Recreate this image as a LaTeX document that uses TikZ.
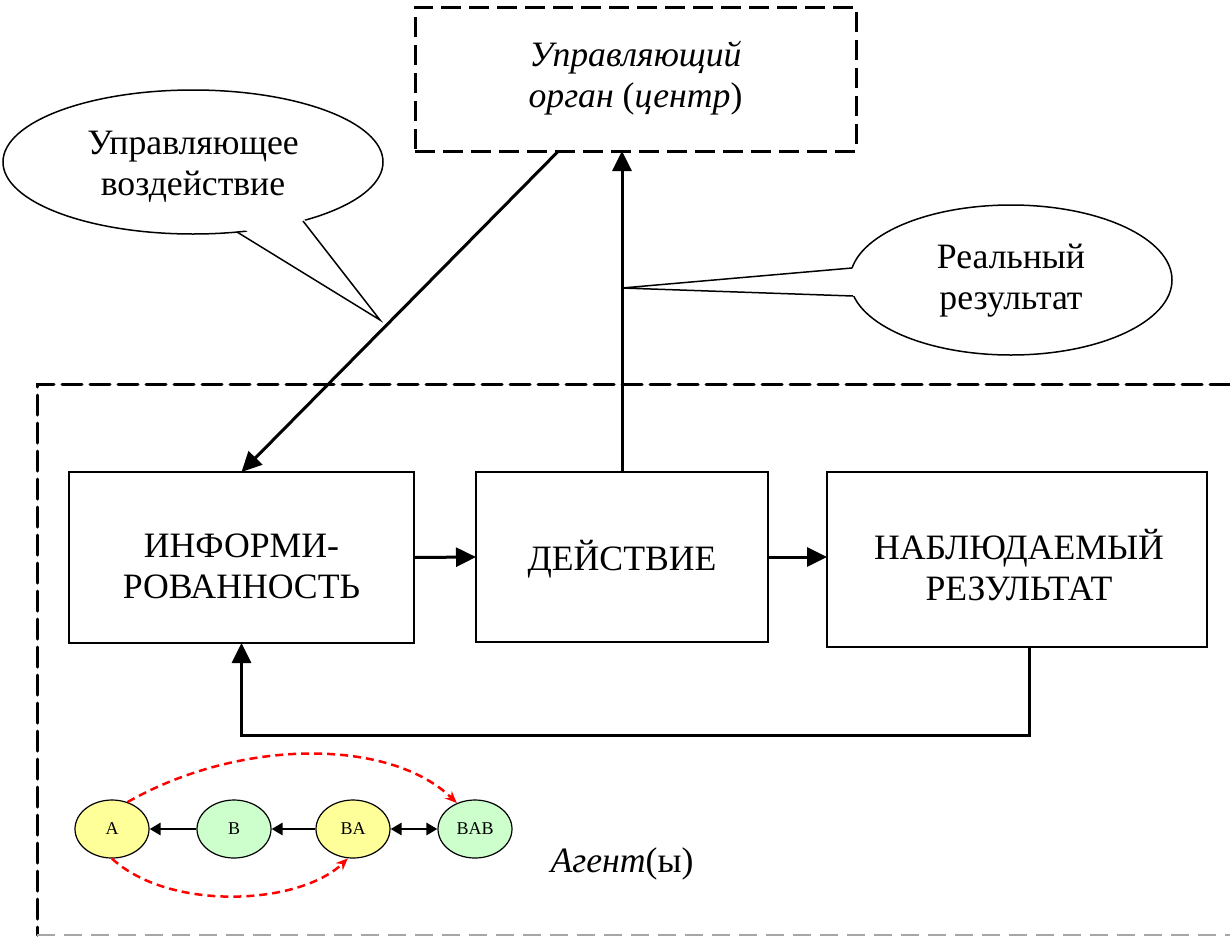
\documentclass[tikz,border=0pt]{standalone}
\usepackage{fontspec}
\setmainfont{Liberation Serif}
\usetikzlibrary{arrows.meta,shapes.geometric,calc}
\newcommand\bigtext{\fontsize{35.7}{41}\selectfont}
\newcommand\smalltext{\fontsize{18}{20}\selectfont}
\definecolor{agentyellow}{HTML}{FFFF99}
\definecolor{agentgreen}{HTML}{CCFFCC}

\begin{document}
\begin{tikzpicture}[x=1pt,y=-1pt,
  blockbox/.style={draw,line width=2pt,inner sep=0pt,outer sep=0pt},
  blocktext/.style={align=center,font=\bigtext,inner sep=0pt},
  dashframe/.style={line width=3pt,dash pattern=on 20pt off 8pt},
  callout/.style={draw,fill=white,line width=1.5pt,ellipse,inner sep=0pt},
  mainarrow/.style={line width=3pt,-{Triangle[length=20pt,width=19pt]}},
  agent/.style={draw,ellipse,line width=1.2pt,minimum width=74pt,minimum height=58pt,inner sep=0pt,font=\smalltext},
  smallhead/.style={line width=2.8pt},
  redlink/.style={red,line width=2.5pt,dash pattern=on 8pt off 5pt,-{Stealth[length=12pt,width=10pt]}}]
\useasboundingbox (0,0) rectangle (1230,937);

% outer frame around the agent part
\draw[dashframe,line cap=round] (1230,384) -- (37,384) -- (37,935);
\draw[gray!70,line width=2pt,dash pattern=on 18pt off 9pt] (37,935) -- (1230,935);

% control centre
\node[blockbox,dashframe,minimum width=441pt,minimum height=144pt] (ctrl) at (635.5,79) {};
\node[blocktext] (ctrltext) at (635.5,78)
  {\itshape Управляющий\\\itshape орган {\upshape(}центр{\upshape)}};

% agent blocks
\node[blockbox,minimum width=345pt,minimum height=171pt] (inf) at (241.5,557.5) {};
\node[blocktext] (inftext) at (241.5,566) {ИНФОРМИ-\\РОВАННОСТЬ};
\node[blockbox,minimum width=292pt,minimum height=170pt] (act) at (622,557) {};
\node[blocktext] (acttext) at (622,559) {ДЕЙСТВИЕ};
\node[blockbox,minimum width=380pt,minimum height=175pt] (obs) at (1017,559.5) {};
\node[blocktext] (obstext) at (1019,565) {НАБЛЮДАЕМЫЙ\\РЕЗУЛЬТАТ};

\draw[mainarrow] (inf.east) -- (act.west);
\draw[mainarrow] (act.east) -- (act.east -| obs.west);
\draw[mainarrow] ([xshift=12pt]obs.south) -- ++(0,88) -| (inf.south);

% control action and real result
\coordinate (ctrlout) at ([xshift=-77pt]ctrl.south);
\draw[mainarrow] (ctrlout) -- (inf.north);
\draw[mainarrow] (act.north) -- (act.north |- ctrl.south);

% callout: control action
\node[callout,minimum width=380pt,minimum height=144pt] (callL) at (193,162) {};
\node[blocktext] (callLtext) at (193,167) {Управляющее\\воздействие};
\coordinate (tailLa) at (237,232);
\coordinate (tailLb) at (303,221);
\coordinate (tipL) at (380,320);
\fill[white] ($(tailLa)+(2,-6)$) -- (tipL) -- ($(tailLb)+(-2,-6)$) -- cycle;
\draw[line width=1.5pt,line join=miter] (tailLa) -- (tipL) -- (tailLb);

% callout: real result
\node[callout,minimum width=322pt,minimum height=150pt] (callR) at (1011,280) {};
\node[blocktext] (callRtext) at (1011,281) {Реальный\\результат};
\coordinate (tailRa) at (852,268);
\coordinate (tailRb) at (853,296);
\coordinate (tipR) at (act.north |- 0,288);
\fill[white] ($(tailRa)+(6,0)$) -- (tipR) -- ($(tailRb)+(6,0)$) -- cycle;
\draw[line width=1.5pt,line join=miter] (tailRa) -- (tipR) -- (tailRb);

% agents and their mutual reflections
\node[agent,fill=agentyellow] (A) at (112,829) {A};
\node[agent,fill=agentgreen] (B) at (234,829) {B};
\node[agent,fill=agentyellow] (BA) at (353,829) {BA};
\node[agent,fill=agentgreen] (BAB) at (475,829) {BAB};

\draw[smallhead,-{Triangle[length=11pt,width=12pt]}] (B) -- (A);
\draw[smallhead,-{Triangle[length=11pt,width=12pt]}] (BA) -- (B);
\draw[smallhead,{Triangle[length=11pt,width=12pt]}-{Triangle[length=11pt,width=12pt]}] (BA) -- (BAB);

\draw[redlink] (A.60) .. controls (240,738) and (390,738) .. (BAB.125);
\draw[redlink] (A.south) .. controls (170,912) and (300,905) .. (BA.-100);

\node[font=\bigtext,anchor=base] (agents) at (622,872) {\itshape Агент{\upshape(ы)}};
\end{tikzpicture}
\end{document}
